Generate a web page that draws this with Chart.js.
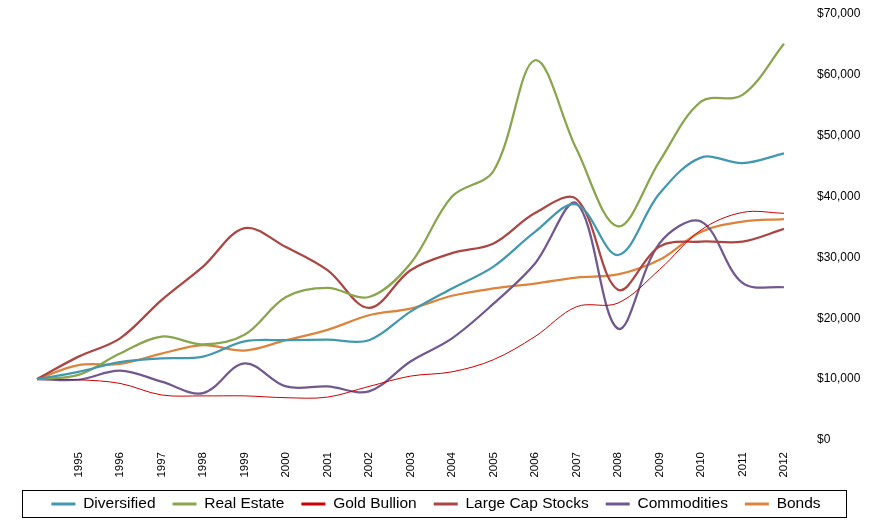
<!DOCTYPE html>
<html>
<head>
<meta charset="utf-8">
<script src="https://cdn.jsdelivr.net/npm/chart.js@4.4.1/dist/chart.umd.min.js"></script>
<style>
  html, body { margin: 0; padding: 0; background: #fff; }
  #wrap { width: 880px; height: 527px; position: relative; }
</style>
</head>
<body>
<div id="wrap"><canvas id="myChart" width="880" height="527"></canvas></div>
<script>
// categorias (la primera es el punto de partida sin etiqueta)
const years = ['', '1995', '1996', '1997', '1998', '1999', '2000', '2001', '2002', '2003',
  '2004', '2005', '2006', '2007', '2008', '2009', '2010', '2011', '2012'];

// valores
const diversified = [10000, 11200, 12800, 13400, 13700, 16200, 16400, 16500, 16400, 21100,
  24900, 28500, 34200, 38700, 30400, 40500, 46400, 45500, 47100];
const realEstate = [10000, 10700, 14200, 17000, 15700, 17300, 23500, 25000, 23500, 29000,
  40000, 44200, 62400, 47800, 35100, 45800, 55600, 56700, 65100];
const goldBullion = [10000, 9900, 9300, 7400, 7250, 7250, 6950, 7050, 8800, 10500,
  11200, 13200, 17000, 21900, 22500, 28000, 34500, 37400, 37250];
const largeCap = [10000, 13700, 16700, 23000, 28500, 34800, 31700, 27900, 21700, 27900,
  30700, 32300, 37300, 39600, 24700, 31800, 32600, 32600, 34700];
const commodities = [10000, 9900, 11400, 9600, 7700, 12600, 8800, 8800, 8000, 12900,
  16700, 22400, 29000, 38900, 18300, 32300, 35900, 25800, 25100];
const bonds = [10000, 12300, 12500, 14200, 15600, 14700, 16400, 18100, 20500, 21600,
  23700, 24900, 25700, 26700, 27200, 29600, 34200, 35900, 36300];

// marco de la leyenda
const legendBox = {
  id: 'legendBox',
  afterDraw(chart) {
    const c = chart.ctx;
    c.save();
    c.strokeStyle = '#000';
    c.lineWidth = 1;
    c.strokeRect(22.5, 490.5, 824, 27);
    c.restore();
  }
};

function serie(label, values, color, width) {
  return {
    label: label,
    data: values,
    borderColor: color,
    backgroundColor: color,
    borderWidth: width,
    pointRadius: 0,
    tension: 0.35,
    fill: false
  };
}

const ctx = document.getElementById('myChart').getContext('2d');

const chart = new Chart(ctx, {
  type: 'line',
  data: {
    labels: years,
    datasets: [
      serie('Diversified', diversified, '#4198AF', 2.25),
      serie('Real Estate', realEstate, '#89A54E', 2.25),
      serie('Gold Bullion', goldBullion, '#CC0000', 1),
      serie('Large Cap Stocks', largeCap, '#AA4643', 2.25),
      serie('Commodities', commodities, '#71588F', 2.25),
      serie('Bonds', bonds, '#DB843D', 2.25)
    ]
  },
  options: {
    responsive: false,
    animation: false,
    events: [],
    layout: { padding: { left: 10, right: 18, top: 14, bottom: 5.25 } },
    scales: {
      x: {
        offset: false,
        grid: { display: false, drawTicks: false },
        border: { display: false },
        afterFit: s => { s.height = 39.25; s.paddingLeft = 37; },
        ticks: {
          minRotation: 90,
          maxRotation: 90,
          autoSkip: false,
          padding: 12,
          color: '#000',
          font: { family: '"Liberation Sans", Arial, sans-serif', size: 11.5 }
        }
      },
      y: {
        position: 'right',
        min: 0,
        max: 70000,
        grid: { display: false, drawTicks: false },
        border: { display: false },
        afterFit: s => { s.width = 78; s.paddingTop = 7; s.paddingBottom = 7; },
        ticks: {
          stepSize: 10000,
          padding: 33,
          color: '#000',
          font: { family: '"Liberation Sans", Arial, sans-serif', size: 12 },
          callback: v => '$' + v.toLocaleString('en-US')
        }
      }
    },
    plugins: {
      legend: {
        position: 'bottom',
        labels: {
          boxWidth: 24,
          boxHeight: 3,
          padding: 17,
          color: '#000',
          font: { family: '"Liberation Sans", Arial, sans-serif', size: 15.5 },
          generateLabels: c => Chart.defaults.plugins.legend.labels.generateLabels(c)
            .map(l => Object.assign(l, { lineWidth: 0 }))
        }
      },
      tooltip: { enabled: false }
    }
  },
  plugins: [legendBox]
});
</script>
</body>
</html>
